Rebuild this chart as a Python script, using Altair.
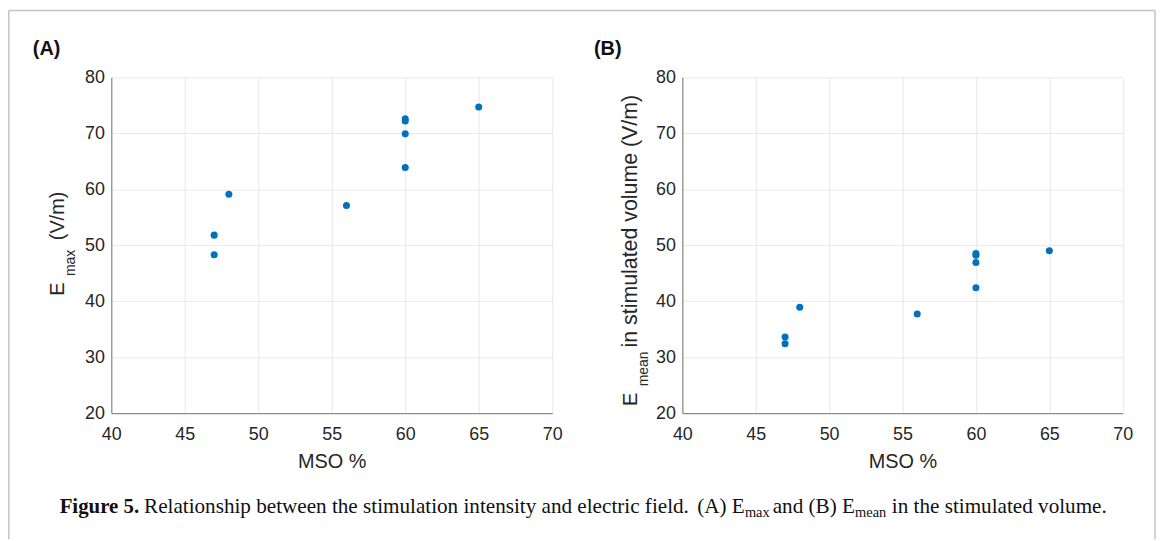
import altair as alt
import pandas as pd

# ---- data ----
mso_a = [47, 47, 48, 56, 60, 60, 60, 60, 65]
emax = [51.8, 48.3, 59.1, 57.1, 72.6, 72.2, 69.9, 63.9, 74.7]
mso_b = [47, 47, 48, 56, 60, 60, 60, 60, 65]
emean = [33.6, 32.4, 38.9, 37.7, 48.5, 48.2, 46.9, 42.4, 49.0]
x_ticks = [40, 45, 50, 55, 60, 65, 70]
y_ticks = [20, 30, 40, 50, 60, 70, 80]

df_a = pd.DataFrame({"mso": mso_a, "val": emax})
df_b = pd.DataFrame({"mso": mso_b, "val": emean})
dummy = pd.DataFrame({"d": [0]})

SANS = "Liberation Sans"
SERIF = "Liberation Serif"
TXT = "#262626"
DOT = "#0072BD"
GRID = "#e8e8e8"
AXLINE = "#8a8a8a"

A_RANGE = [104, 548]
B_RANGE = [679, 1122.5]


def x_axis():
    return alt.Axis(values=x_ticks, grid=True, gridColor=GRID, ticks=False,
                    domainColor=AXLINE, domainWidth=1.2, orient="bottom",
                    labelFont=SANS, labelFontSize=18, labelColor=TXT,
                    labelPadding=13, labelFlush=False,
                    title="MSO %", titleFont=SANS, titleFontSize=20,
                    titleFontWeight="normal", titleColor=TXT, titlePadding=8)


def y_axis(offset):
    return alt.Axis(values=y_ticks, grid=True, gridColor=GRID, ticks=False,
                    domainColor=AXLINE, domainWidth=1.2, orient="left",
                    offset=offset,
                    labelFont=SANS, labelFontSize=18, labelColor=TXT,
                    labelPadding=7, labelFlush=False, title=None)


pts_a = alt.Chart(df_a).mark_circle(size=50, color=DOT, opacity=1).encode(
    x=alt.X("mso:Q", scale=alt.Scale(domain=[40, 70], range=A_RANGE, nice=False, zero=False), axis=x_axis()),
    y=alt.Y("val:Q", scale=alt.Scale(domain=[20, 80], nice=False, zero=False), axis=y_axis(-A_RANGE[0])),
)

pts_b = alt.Chart(df_b).mark_circle(size=50, color=DOT, opacity=1).encode(
    x=alt.X("mso:Q", scale=alt.Scale(domain=[40, 70], range=B_RANGE, nice=False, zero=False), axis=x_axis()),
    y=alt.Y("val:Q", scale=alt.Scale(domain=[20, 80], nice=False, zero=False), axis=y_axis(-B_RANGE[0])),
)


def txt(s, x, y, size=20, font=SANS, weight="normal", angle=0, color=TXT):
    kw = dict(text=s, font=font, fontSize=size, fontWeight=weight, align="left",
              baseline="alphabetic", color=color)
    if angle:
        kw["angle"] = angle
    return alt.Chart(dummy).mark_text(**kw).encode(x=alt.value(x), y=alt.value(y))


CAP = "#111111"
CY = 439
SY = 442.5
labels = [
    # panel letters
    txt("(A)", 25, -23, size=20, weight="bold", color=CAP),
    txt("(B)", 590, -23, size=20, weight="bold", color=CAP),
    # y title A: E_max (V/m)
    txt("E", 56, 220, size=20, angle=270),
    txt("max", 67, 200, size=14, angle=270),
    txt("(V/m)", 56, 164, size=20, angle=270),
    # y title B: E_mean in stimulated volume (V/m)
    txt("E", 633, 331, size=20, angle=270),
    txt("mean", 644, 311, size=14, angle=270),
    txt("in stimulated volume (V/m)", 633, 272, size=21.5, angle=270),
    # caption
    txt("Figure 5.", 52, CY, size=21, font=SERIF, weight="bold", color=CAP),
    txt("Relationship between the stimulation intensity and electric field.", 137, CY, size=21.3, font=SERIF, color=CAP),
    txt("(A) E", 694, CY, size=21.3, font=SERIF, color=CAP),
    txt("max", 742, SY, size=14.5, font=SERIF, color=CAP),
    txt("and (B) E", 770, CY, size=21.3, font=SERIF, color=CAP),
    txt("mean", 853, SY, size=14.5, font=SERIF, color=CAP),
    txt("in the stimulated volume.", 890, CY, size=21.3, font=SERIF, color=CAP),
]

FRAME = "#c4c4c4"
TOP = -67.25
BOT = 465
frame = [
    alt.Chart(dummy).mark_rule(color=FRAME, strokeWidth=1.5).encode(
        x=alt.value(0.75), y=alt.value(TOP), y2=alt.value(BOT)),
    alt.Chart(dummy).mark_rule(color=FRAME, strokeWidth=1.5).encode(
        x=alt.value(0.75), x2=alt.value(1155), y=alt.value(TOP)),
    alt.Chart(dummy).mark_rule(color=FRAME, strokeWidth=1.5).encode(
        x=alt.value(1155), y=alt.value(TOP), y2=alt.value(BOT)),
]

chart = alt.layer(pts_a, pts_b, *labels, *frame).resolve_scale(
    x="independent", y="independent"
).resolve_axis(
    x="independent", y="independent"
).properties(
    width=1160, height=338,
    autosize=alt.AutoSizeParams(type="none"),
    padding={"left": 0, "top": 68, "right": 0, "bottom": 127},
    background="white",
).configure_view(strokeWidth=0)

chart.save("out.html", embed_options={"renderer": "svg", "actions": False})
